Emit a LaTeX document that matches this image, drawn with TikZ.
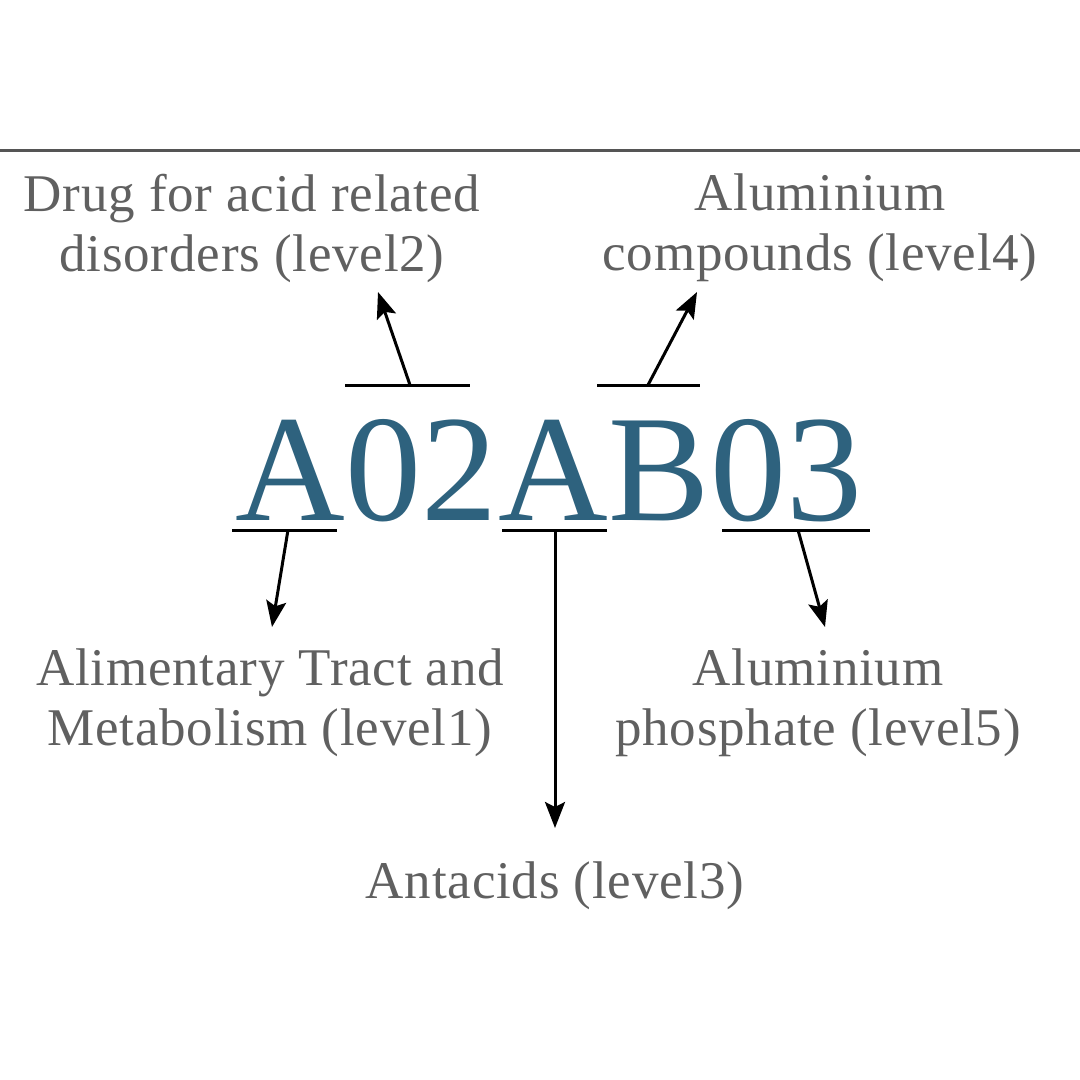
\documentclass[tikz,border=0pt]{standalone}
\usepackage{fontspec}
\setmainfont{Liberation Serif}
\newfontfamily\spacedserif[LetterSpace=1.5]{Liberation Serif}
\usepackage{xcolor}
\usetikzlibrary{arrows.meta,calc,positioning}
\definecolor{codeblue}{RGB}{46,98,126}
\definecolor{labelgray}{RGB}{96,96,96}
\definecolor{rulegray}{RGB}{85,85,85}

\begin{document}
\begin{tikzpicture}[x=1pt,y=-1pt,
    glyph/.style={inner sep=0pt, anchor=base west, text=codeblue, font=\fontsize{152}{152}\selectfont},
    lbl/.style={text=labelgray, align=center, font=\spacedserif\fontsize{53}{60}\selectfont},
    bar/.style={line width=3pt},
    arr/.style={-{Stealth[length=26pt,width=20pt,inset=5pt]}, line width=3pt}]

    \useasboundingbox[fill=white] (0,0) rectangle (1080,1080);

    % Draw the top rule
    \draw[rulegray, line width=3pt] (0,150) -- (1080,150);

    % Draw the ATC code, one glyph per node
    \node[glyph] (gA1) at (235,520) {A};
    \node[glyph] (g0a) at (gA1.base east) {0};
    \node[glyph] (g2) at (g0a.base east) {2};
    \node[glyph] (gA2) at (g2.base east) {A};
    \node[glyph] (gB) at (gA2.base east) {B};
    \node[glyph] (g0b) at (gB.base east) {0};
    \node[glyph] (g3) at (g0b.base east) {3};

    % Draw the level labels
    \node[lbl] (lvl2) at (252,228) {Drug for acid related\\disorders (level2)};
    \node[lbl] (lvl4) at (820,228) {Aluminium\\compounds (level4)};
    \node[lbl] (lvl1) at (270,703) {Alimentary Tract and\\Metabolism (level1)};
    \node[lbl] (lvl5) at (818,703) {Aluminium\\phosphate (level5)};
    \node[lbl, anchor=base] (lvl3) at (555,898) {Antacids (level3)};

    % Bar midpoints and arrow ends
    \coordinate (m1) at (288,530);
    \coordinate (m2) at (410,385);
    \coordinate (m3) at (555,530);
    \coordinate (m4) at (648,385);
    \coordinate (m5) at (798,530);
    \coordinate (t1) at (272,627);
    \coordinate (t2) at (378,292);
    \coordinate (t3) at (555,828);
    \coordinate (t4) at (697,292);
    \coordinate (t5) at (825,627);

    % Draw the bars over and under the code
    \draw[bar] (232,530) -- (337,530);
    \draw[bar] (345,385) -- (470,385);
    \draw[bar] (502,530) -- (607,530);
    \draw[bar] (597,385) -- (700,385);
    \draw[bar] (722,530) -- (870,530);

    % Draw arrows from the bars to the labels
    \draw[arr] (m1) -- (t1);
    \draw[arr] (m2) -- (t2);
    \draw[arr] (m3) -- (t3);
    \draw[arr] (m4) -- (t4);
    \draw[arr] (m5) -- (t5);
\end{tikzpicture}
\end{document}
